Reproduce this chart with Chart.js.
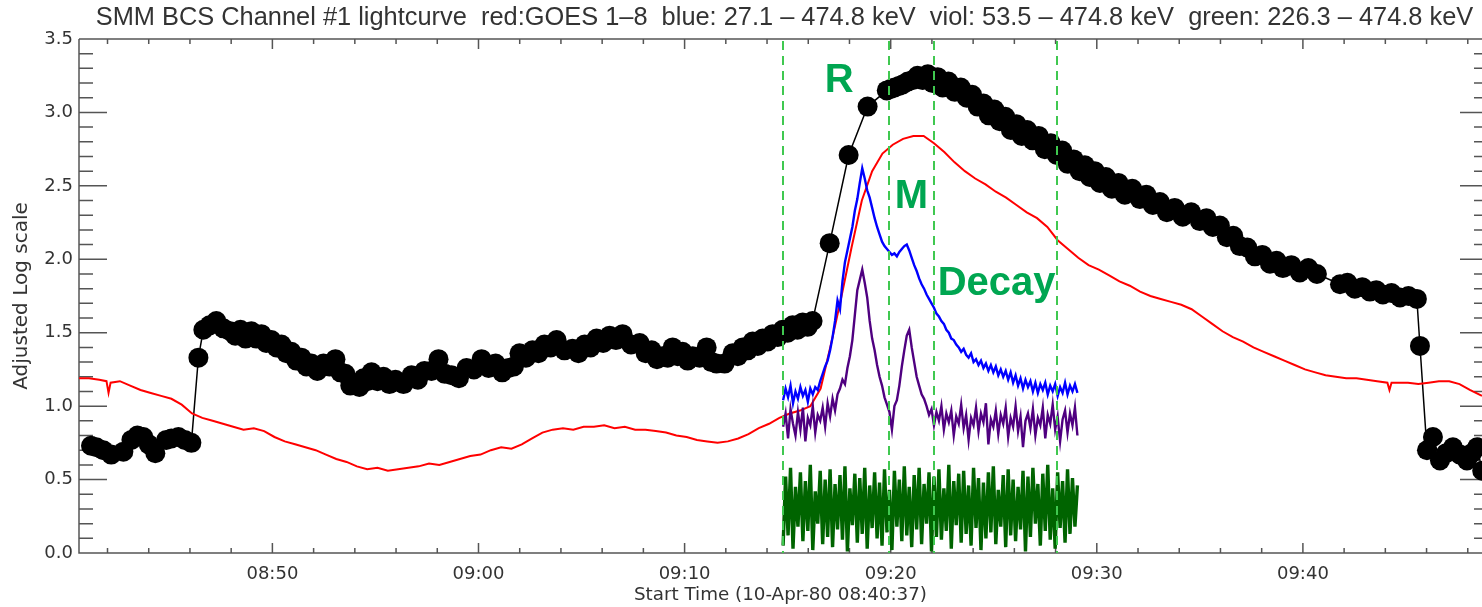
<!DOCTYPE html>
<html>
<head>
<meta charset="utf-8">
<script src="https://cdn.jsdelivr.net/npm/chart.js@4.4.0/dist/chart.umd.min.js"></script>
<style>
  html, body { margin: 0; padding: 0; background: #fff; overflow: hidden; }
  #wrap { width: 1482px; height: 607px; position: relative; }
  canvas { display: block; }
</style>
</head>
<body>
<div id="wrap"><canvas id="lc"></canvas></div>
<script>
// all times are minutes after 08:40:00
const xMin = 37 / 60;      // 08:40:37
const xMax = 68.69;
const xTickMinutes = [10, 20, 30, 40, 50, 60];
const yTicks = [0, 0.5, 1.0, 1.5, 2.0, 2.5, 3.0, 3.5];

// BCS channel #1 (black dots)
const blackT = [
  1.20, 1.46, 1.80, 2.18, 2.77, 3.16, 3.45, 3.74, 4.00, 4.32,
  4.85, 5.10, 5.44, 5.75, 6.07, 6.41, 6.65, 6.95, 7.28, 7.62,
  7.96, 8.20, 8.45, 8.70, 8.98, 9.22, 9.47, 9.70, 9.95, 10.20,
  10.44, 10.68, 10.92, 11.16, 11.41, 11.65, 11.89, 12.18, 12.48, 12.77,
  13.06, 13.30, 13.54, 13.78, 14.03, 14.22, 14.42, 14.61, 14.81, 15.10,
  15.39, 15.68, 15.97, 16.36, 16.75, 17.06, 17.38, 17.72, 18.06, 18.37,
  18.69, 19.05, 19.42, 19.78, 20.15, 20.49, 20.83, 21.15, 21.46, 21.72,
  21.99, 22.30, 22.62, 22.91, 23.20, 23.50, 23.79, 24.17, 24.56, 24.85,
  25.15, 25.44, 25.73, 26.05, 26.36, 26.67, 26.99, 27.40, 27.82, 28.11,
  28.40, 28.66, 28.93, 29.18, 29.42, 29.66, 29.90, 30.15, 30.39, 30.73,
  31.07, 31.31, 31.55, 31.94, 32.33, 32.58, 32.82, 33.06, 33.30, 33.55,
  33.79, 34.03, 34.27, 34.52, 34.76, 35.00, 35.24, 35.48, 35.73, 35.97,
  36.21, 37.04, 37.96, 38.88, 39.81, 40.00, 40.19, 40.40, 40.58, 40.83,
  41.07, 41.30, 41.55, 41.80, 42.04, 42.28, 42.52, 42.80, 43.11, 43.40,
  43.69, 43.95, 44.22, 44.50, 44.76, 45.03, 45.29, 45.56, 45.83, 46.10,
  46.36, 46.62, 46.89, 47.18, 47.48, 47.77, 48.06, 48.32, 48.59, 48.88,
  49.17, 49.42, 49.66, 49.90, 50.15, 50.44, 50.73, 51.05, 51.36, 51.72,
  52.09, 52.40, 52.72, 53.06, 53.40, 53.78, 54.17, 54.58, 55.00, 55.32,
  55.63, 55.97, 56.31, 56.62, 56.94, 57.30, 57.67, 58.03, 58.40, 58.72,
  59.03, 59.44, 59.85, 60.26, 60.68, 61.80, 62.16, 62.52, 62.88, 63.25,
  63.56, 63.88, 64.30, 64.71, 65.12, 65.53, 65.68, 66.02, 66.31, 66.65,
  66.95, 67.28, 67.62, 67.96, 68.20, 68.45, 68.70];
const blackV = [
  0.73, 0.72, 0.70, 0.67, 0.69, 0.77, 0.80, 0.79, 0.74, 0.68,
  0.77, 0.78, 0.79, 0.77, 0.75, 1.33, 1.52, 1.55, 1.58, 1.53,
  1.51, 1.48, 1.52, 1.46, 1.51, 1.46, 1.49, 1.43, 1.45, 1.40,
  1.42, 1.36, 1.37, 1.31, 1.33, 1.27, 1.29, 1.24, 1.29, 1.27,
  1.32, 1.23, 1.22, 1.14, 1.15, 1.13, 1.19, 1.17, 1.23, 1.17,
  1.20, 1.15, 1.18, 1.15, 1.21, 1.18, 1.24, 1.24, 1.32, 1.22,
  1.21, 1.19, 1.26, 1.25, 1.32, 1.26, 1.29, 1.23, 1.26, 1.27,
  1.36, 1.33, 1.38, 1.36, 1.42, 1.40, 1.45, 1.38, 1.39, 1.36,
  1.42, 1.40, 1.46, 1.43, 1.48, 1.45, 1.49, 1.42, 1.43, 1.36,
  1.38, 1.32, 1.34, 1.33, 1.40, 1.34, 1.37, 1.31, 1.34, 1.33,
  1.40, 1.30, 1.29, 1.29, 1.36, 1.34, 1.40, 1.38, 1.44, 1.41,
  1.46, 1.44, 1.49, 1.47, 1.52, 1.50, 1.55, 1.52, 1.57, 1.54,
  1.58, 2.11, 2.71, 3.04, 3.15, 3.16, 3.17, 3.18, 3.19, 3.21,
  3.22, 3.25, 3.22, 3.26, 3.20, 3.24, 3.17, 3.21, 3.14, 3.17,
  3.10, 3.12, 3.04, 3.06, 2.98, 3.02, 2.94, 2.97, 2.88, 2.92,
  2.84, 2.88, 2.81, 2.84, 2.75, 2.79, 2.71, 2.74, 2.65, 2.68,
  2.60, 2.64, 2.56, 2.60, 2.52, 2.56, 2.48, 2.52, 2.44, 2.48,
  2.41, 2.44, 2.37, 2.39, 2.32, 2.35, 2.29, 2.32, 2.26, 2.28,
  2.22, 2.23, 2.15, 2.16, 2.09, 2.08, 2.02, 2.03, 1.97, 1.99,
  1.94, 1.96, 1.91, 1.94, 1.90, 1.83, 1.84, 1.80, 1.81, 1.78,
  1.79, 1.76, 1.77, 1.74, 1.75, 1.73, 1.41, 0.70, 0.79, 0.63,
  0.68, 0.72, 0.67, 0.63, 0.68, 0.72, 0.56];

// GOES 1-8 (red)
const redT = [0.62, 1.1, 1.6, 1.95, 2.05, 2.15, 2.6, 3.1, 3.6, 4.1, 4.6, 5.1, 5.6, 6.1, 6.6, 7.1, 7.6,
  8.1, 8.6, 9.1, 9.6, 10.1, 10.6, 11.1, 11.6, 12.1, 12.6, 13.1, 13.6, 14.1, 14.6, 15.1, 15.6, 16.1,
  16.6, 17.1, 17.6, 18.1, 18.6, 19.1, 19.6, 20.1, 20.6, 21.1, 21.6, 22.1, 22.6, 23.1, 23.6, 24.1,
  24.6, 25.1, 25.6, 26.1, 26.6, 27.1, 27.6, 28.1, 28.6, 29.1, 29.6, 30.1, 30.6, 31.1, 31.6, 32.1,
  32.6, 33.1, 33.6, 34.1, 34.6, 35.1, 35.6, 36.1, 36.6, 37.1, 37.6, 38.1, 38.6, 39.1, 39.6, 40.1,
  40.6, 41.1, 41.6, 42.1, 42.6, 43.1, 43.6, 44.1, 44.6, 45.1, 45.6, 46.1, 46.6, 47.1, 47.6, 48.1,
  48.6, 49.1, 49.6, 50.1, 50.6, 51.1, 51.6, 52.1, 52.6, 53.1, 53.6, 54.1, 54.6, 55.1, 55.6, 56.1,
  56.6, 57.1, 57.6, 58.1, 58.6, 59.1, 59.6, 60.1, 60.6, 61.1, 61.6, 62.1, 62.6, 63.1, 63.6, 64.1,
  64.2, 64.3, 64.6, 65.1, 65.6, 66.1, 66.6, 67.1, 67.6, 68.1, 68.69];
const redV = [1.19, 1.19, 1.18, 1.17, 1.09, 1.16, 1.17, 1.14, 1.11, 1.09, 1.07, 1.05, 1.01, 0.95, 0.92, 0.90, 0.88,
  0.86, 0.84, 0.85, 0.83, 0.79, 0.76, 0.74, 0.72, 0.70, 0.67, 0.64, 0.62, 0.59, 0.57, 0.58, 0.56, 0.57,
  0.58, 0.59, 0.61, 0.60, 0.62, 0.64, 0.66, 0.67, 0.70, 0.72, 0.71, 0.74, 0.78, 0.82, 0.84, 0.85,
  0.84, 0.86, 0.86, 0.87, 0.85, 0.86, 0.84, 0.84, 0.83, 0.82, 0.80, 0.79, 0.77, 0.76, 0.75, 0.76,
  0.78, 0.81, 0.85, 0.88, 0.92, 0.95, 0.97, 1.00, 1.12, 1.42, 1.74, 2.08, 2.40, 2.60, 2.72, 2.78,
  2.82, 2.84, 2.84, 2.79, 2.73, 2.66, 2.60, 2.55, 2.51, 2.46, 2.42, 2.37, 2.32, 2.28, 2.22, 2.13,
  2.07, 2.01, 1.96, 1.93, 1.89, 1.85, 1.82, 1.78, 1.75, 1.73, 1.71, 1.69, 1.66, 1.61, 1.56, 1.51,
  1.47, 1.44, 1.40, 1.37, 1.34, 1.31, 1.28, 1.25, 1.23, 1.21, 1.20, 1.19, 1.19, 1.18, 1.17, 1.16,
  1.11, 1.16, 1.16, 1.16, 1.15, 1.16, 1.17, 1.17, 1.15, 1.11, 1.07];

// BCS energy bands, sampled every bcsStep minutes from bcsStart
const bcsStart = 34.78;
const bcsStep = 0.12;
const blueV = [1.04, 1.12, 1.06, 1.14, 1.02, 1.10, 1.05, 1.13, 1.07, 1.11, 1.03, 1.12, 1.08,
  1.13, 1.11, 1.17, 1.22, 1.27, 1.31, 1.38, 1.47, 1.58, 1.72, 1.66, 1.85, 1.98, 2.06, 2.14, 2.22,
  2.33, 2.41, 2.52, 2.62, 2.55, 2.47, 2.42, 2.35, 2.28, 2.22, 2.17, 2.12, 2.09, 2.07, 2.05, 2.03,
  2.04, 2.02, 2.05, 2.07, 2.09, 2.10, 2.06, 2.01, 1.96, 1.92, 1.87, 1.83, 1.80, 1.76, 1.73, 1.70,
  1.67, 1.63, 1.61, 1.58, 1.56, 1.52, 1.50, 1.46, 1.45, 1.42, 1.40, 1.37, 1.39, 1.35, 1.33, 1.36,
  1.30, 1.32, 1.28, 1.31, 1.26, 1.29, 1.24, 1.28, 1.23, 1.27, 1.21, 1.25, 1.20, 1.24, 1.18, 1.23,
  1.16, 1.21, 1.14, 1.19, 1.12, 1.18, 1.13, 1.17, 1.10, 1.16, 1.09, 1.15, 1.11, 1.16, 1.08, 1.14,
  1.10, 1.15, 1.07, 1.13, 1.09, 1.16, 1.08, 1.14, 1.10, 1.15, 1.09];
const violV = [0.86, 0.95, 0.78, 0.98, 0.88, 0.80, 0.96, 0.84, 0.99, 0.76, 0.92, 0.87, 1.00, 0.82, 0.94,
  0.90, 0.99, 0.86, 1.02, 0.93, 1.05, 0.97, 1.08, 1.12, 1.18, 1.15, 1.26, 1.34, 1.45, 1.62, 1.79,
  1.86, 1.93, 1.84, 1.74, 1.58, 1.46, 1.38, 1.28, 1.20, 1.14, 1.06, 1.01, 0.96, 0.84, 1.00, 1.04,
  1.14, 1.27, 1.38, 1.48, 1.52, 1.40, 1.30, 1.20, 1.14, 1.08, 1.05, 1.00, 0.94, 0.98, 0.87, 0.96,
  0.90, 1.00, 0.84, 0.95, 0.89, 0.97, 0.80, 0.93, 0.88, 1.01, 0.85, 0.94, 0.77, 0.92, 0.87, 0.99,
  0.83, 0.95, 0.89, 1.02, 0.74, 0.91, 0.86, 0.97, 0.81, 0.94, 0.88, 0.99, 0.79, 0.92, 0.86, 1.00,
  0.83, 0.93, 0.72, 0.90, 0.95, 0.85, 0.98, 0.80, 0.92, 0.87, 0.99, 0.78, 0.94, 0.88, 1.01, 0.84,
  0.93, 0.76, 0.91, 0.97, 0.82, 0.95, 0.87, 0.99, 0.80];
const greenV = [0.05, 0.52, 0.12, 0.58, 0.03, 0.45, 0.18, 0.55, 0.08, 0.49,
  0.15, 0.60, 0.02, 0.42, 0.20, 0.56, 0.06, 0.50, 0.11, 0.57,
  0.04, 0.47, 0.16, 0.53, 0.09, 0.59, 0.01, 0.44, 0.19, 0.54,
  0.07, 0.51, 0.13, 0.58, 0.03, 0.46, 0.17, 0.55, 0.10, 0.48,
  0.05, 0.57, 0.14, 0.43, 0.02, 0.56, 0.18, 0.50, 0.08, 0.59,
  0.12, 0.45, 0.04, 0.53, 0.16, 0.58, 0.06, 0.47, 0.20, 0.55,
  0.01, 0.52, 0.11, 0.57, 0.09, 0.44, 0.15, 0.60, 0.03, 0.49,
  0.19, 0.54, 0.07, 0.56, 0.13, 0.46, 0.05, 0.58, 0.17, 0.51,
  0.02, 0.48, 0.10, 0.55, 0.14, 0.59, 0.06, 0.43, 0.18, 0.53,
  0.04, 0.57, 0.12, 0.50, 0.08, 0.45, 0.16, 0.56, 0.01, 0.52,
  0.11, 0.58, 0.20, 0.47, 0.05, 0.54, 0.15, 0.60, 0.09, 0.44,
  0.03, 0.55, 0.17, 0.49, 0.07, 0.57, 0.13, 0.51, 0.18, 0.46];

// phase markers and their labels
const markerTimes = [34.76, 39.90, 42.09, 48.06];
const phaseLabels = ['R', 'M', 'Decay'];
const phaseLabelT = [36.80, 40.20, 42.28];
const phaseLabelV = [3.14, 2.35, 1.76];

const titleText = 'SMM BCS Channel #1 lightcurve  red:GOES 1\u20138  blue: 27.1 \u2013 474.8 keV  viol: 53.5 \u2013 474.8 keV  green: 226.3 \u2013 474.8 keV';

function pairs(ts, vs) {
    return vs.map((v, i) => ({ x: ts[i], y: v }));
}
function sampled(vs) {
    return vs.map((v, i) => ({ x: bcsStart + i * bcsStep, y: v }));
}
function hhmm(min) {
    const total = 8 * 60 + 40 + min;
    const h = Math.floor(total / 60), m = Math.round(total % 60);
    return String(h).padStart(2, '0') + ':' + String(m).padStart(2, '0');
}

const axisFrame = {
    id: 'axisFrame',
    beforeDatasetsDraw(chart) {
        const { ctx, chartArea: a, scales: { x, y } } = chart;
        const rightAxis = a.right + 6;   // the right axis sits just past the picture edge
        ctx.save();
        ctx.strokeStyle = '#555';
        ctx.lineWidth = 1.5;
        ctx.beginPath();
        ctx.moveTo(a.left, a.top); ctx.lineTo(a.left, a.bottom); ctx.lineTo(rightAxis, a.bottom);
        ctx.moveTo(a.left, a.top); ctx.lineTo(rightAxis, a.top);
        for (let k = 0; k <= 35; k++) {
            const py = y.getPixelForValue(k / 10);
            const len = k % 5 === 0 ? 28 : 14;
            ctx.moveTo(a.left, py); ctx.lineTo(a.left + len, py);
            ctx.moveTo(rightAxis, py); ctx.lineTo(rightAxis - len, py);
        }
        for (let m = 2; m <= 68; m += 2) {
            const px = x.getPixelForValue(m);
            const len = m % 10 === 0 ? 10 : 5;
            ctx.moveTo(px, a.bottom); ctx.lineTo(px, a.bottom - len);
            ctx.moveTo(px, a.top); ctx.lineTo(px, a.top + len);
        }
        ctx.stroke();

        // title, centred over the plot box
        ctx.fillStyle = '#333';
        ctx.font = '25.4px "Liberation Sans", Arial, sans-serif';
        ctx.textAlign = 'center';
        ctx.textBaseline = 'middle';
        ctx.fillText(titleText, (a.left + rightAxis) / 2 + 1, 18);
        ctx.restore();
    },
    afterDatasetsDraw(chart) {
        const { ctx, chartArea: a, scales: { x, y } } = chart;
        ctx.save();
        ctx.strokeStyle = 'rgb(64, 200, 80)';
        ctx.lineWidth = 2;
        ctx.setLineDash([9, 6]);
        markerTimes.forEach(t => {
            const px = Math.round(x.getPixelForValue(t));
            ctx.beginPath();
            ctx.moveTo(px, a.top + 2);
            ctx.lineTo(px, a.bottom);
            ctx.stroke();
        });
        ctx.setLineDash([]);
        ctx.fillStyle = '#00a651';
        ctx.font = 'bold 40px "Liberation Sans", Arial, sans-serif';
        ctx.textAlign = 'left';
        ctx.textBaseline = 'alphabetic';
        phaseLabels.forEach((s, i) => {
            ctx.fillText(s, x.getPixelForValue(phaseLabelT[i]), y.getPixelForValue(phaseLabelV[i]));
        });
        ctx.restore();
    }
};

const tickFont = { family: '"DejaVu Sans", sans-serif', size: 18 };

new Chart(document.getElementById('lc'), {
    type: 'scatter',
    data: {
        datasets: [
            {
                label: 'BCS', data: pairs(blackT, blackV), showLine: true, order: 5,
                borderColor: '#000', borderWidth: 1.5, pointRadius: 10, pointBorderWidth: 0,
                pointBackgroundColor: '#000'
            },
            {
                label: 'GOES', data: pairs(redT, redV), showLine: true, order: 4,
                borderColor: '#ff0000', borderWidth: 2, pointRadius: 0
            },
            {
                label: 'green', data: sampled(greenV), showLine: true, order: 3,
                borderColor: '#006400', borderWidth: 3.4, pointRadius: 0
            },
            {
                label: 'viol', data: sampled(violV), showLine: true, order: 2,
                borderColor: '#4f0080', borderWidth: 2.4, pointRadius: 0
            },
            {
                label: 'blue', data: sampled(blueV), showLine: true, order: 1,
                borderColor: '#0000ff', borderWidth: 2.4, pointRadius: 0
            }
        ]
    },
    options: {
        responsive: true,
        maintainAspectRatio: false,
        animation: false,
        layout: { autoPadding: false, padding: { top: 39, left: 0, right: 0, bottom: 0 } },
        scales: {
            x: {
                type: 'linear', min: xMin, max: xMax,
                afterFit: s => { s.height = 54; s.paddingLeft = 0; s.paddingRight = 0; },
                afterBuildTicks: s => { s.ticks = xTickMinutes.map(v => ({ value: v })); },
                grid: { display: false, drawTicks: false },
                border: { display: false },
                ticks: { color: '#333', font: tickFont, padding: 11, callback: v => hhmm(v), maxRotation: 0 },
                title: {
                    display: true, text: 'Start Time (10-Apr-80 08:40:37)', color: '#333',
                    font: { family: '"DejaVu Sans", sans-serif', size: 18.3 }, padding: { top: 0, bottom: 1 }
                }
            },
            y: {
                type: 'linear', min: 0, max: 3.5,
                afterFit: s => { s.width = 79; s.paddingTop = 0; s.paddingBottom = 0; },
                afterBuildTicks: s => { s.ticks = yTicks.map(v => ({ value: v })); },
                grid: { display: false, drawTicks: false },
                border: { display: false },
                ticks: { color: '#333', font: tickFont, padding: 6, callback: v => v.toFixed(1) },
                title: {
                    display: true, text: 'Adjusted Log scale', color: '#333',
                    font: { family: '"DejaVu Sans", sans-serif', size: 20 }, padding: { top: 10, bottom: 0 }
                }
            }
        },
        plugins: {
            legend: { display: false },
            tooltip: { enabled: false },
            title: { display: false }
        }
    },
    plugins: [axisFrame]
});
</script>
</body>
</html>
